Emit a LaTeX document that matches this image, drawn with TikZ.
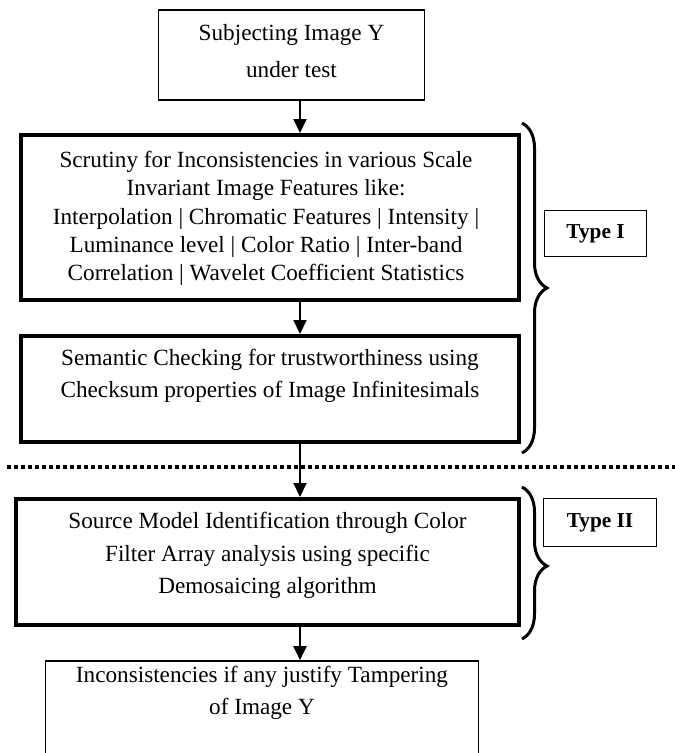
\documentclass[tikz,border=0pt]{standalone}
\usepackage{fontspec}
\setmainfont{Liberation Serif}
\usetikzlibrary{calc, arrows.meta, decorations.pathreplacing}

\begin{document}
\begin{tikzpicture}[x=1pt, y=-1pt,
		box/.style = {draw, line width=1.6pt, inner sep=0pt},
		heavy box/.style = {draw, line width=4pt, inner sep=0pt},
		body/.style = {align=center, inner sep=0pt, font=\fontsize{23.2}{#1}\selectfont},
		tag/.style = {draw, line width=1.6pt, inner sep=0pt, font=\fontsize{21.3}{24}\selectfont\bfseries},
		curly/.style = {decorate, decoration={brace, amplitude=25pt, aspect=#1}, line width=3pt}]
			\clip (0,0) rectangle (675,753);
			
			\coordinate (flow) at (300,0);
			
			\node[box, minimum width=266pt, minimum height=90pt] (subject) at (291.5,55) {};
			\node[body=37pt] (subject text) at ($ (subject) + (0,-3.5) $) {Subjecting Image Y\\under test};
			
			\node[heavy box, minimum width=498pt, minimum height=165pt] (scrutiny) at (270,217.5) {};
			\node[body=28.25pt] (scrutiny text) at ($ (scrutiny) + (-4,1) $) {Scrutiny for Inconsistencies in various Scale\\Invariant Image Features like:\\Interpolation | Chromatic Features | Intensity |\\Luminance level | Color Ratio | Inter-band\\Correlation | Wavelet Coefficient Statistics};
			
			\node[heavy box, minimum width=498pt, minimum height=106pt] (semantic) at (270,389) {};
			\node[body=32pt] (semantic text) at ($ (semantic) + (0,-13) $) {Semantic Checking for trustworthiness using\\Checksum properties of Image Infinitesimals};
			
			\node[heavy box, minimum width=503pt, minimum height=126pt] (source) at (267.5,562) {};
			\node[body=32.5pt] (source text) at ($ (source) + (0,-6.5) $) {Source Model Identification through Color\\Filter Array analysis using specific\\Demosaicing algorithm};
			
			\node[box, minimum width=433pt, minimum height=110pt] (verdict) at (262,716) {};
			\node[body=32pt] (verdict text) at ($ (verdict.north) + (0,33) $) {Inconsistencies if any justify Tampering\\of Image Y};
			
			\node[tag, minimum width=102pt, minimum height=46pt] (type one) at (595.5,233.5) {Type I};
			\node[tag, minimum width=113pt, minimum height=48pt] (type two) at (600,522.5) {Type II};
			
			\begin{scope}[line width=2pt, -{Triangle[length=14pt, width=13pt]}]
				\draw (subject.south -| flow) -- (scrutiny.north -| flow);
				\draw (scrutiny.south -| flow) -- (semantic.north -| flow);
				\draw (semantic.south -| flow) -- (source.north -| flow);
				\draw (source.south -| flow) -- (verdict.north -| flow);
			\end{scope}
			
			\draw[line width=3.5pt, dash pattern=on 3.5pt off 3.5pt] (7,467) -- (675,467);
			
			\draw[curly=0.5] (522,123) -- (522,453);
			\draw[curly=0.52] (522,487) -- (522,639);
		\end{tikzpicture}
\end{document}
